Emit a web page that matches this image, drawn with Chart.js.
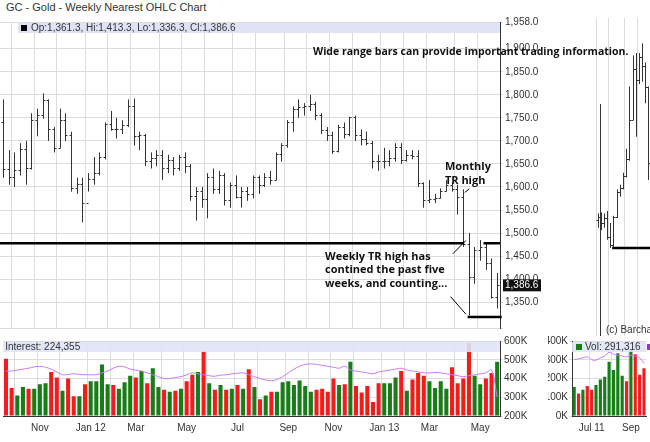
<!DOCTYPE html>
<html>
<head>
<meta charset="utf-8">
<script src="https://cdn.jsdelivr.net/npm/chart.js@4.4.1/dist/chart.umd.min.js"></script>
<style>
  body { margin: 0; background: #fff; width: 650px; height: 442px; overflow: hidden; position: relative; font-family: 'Liberation Sans', Arial, sans-serif; }
  .box { position: absolute; }
  #title { position: absolute; left: 6px; top: 1px; font-size: 11px; color: #333; }
  #wide { position: absolute; left: 313px; top: 44px; font: bold 10.5px 'Open Sans', sans-serif; color: #111; z-index: 5; white-space: nowrap; }
</style>
</head>
<body>
<div id="title">GC - Gold - Weekly Nearest OHLC Chart</div>
<div id="wide">Wide range bars can provide important trading information.</div>
<div class="box" style="left:0;top:14px;width:548px;height:322px"><canvas id="price"></canvas></div>
<div class="box" style="left:0;top:334px;width:548px;height:106px"><canvas id="vol"></canvas></div>
<div class="box" style="left:548px;top:14px;width:102px;height:322px"><canvas id="price2"></canvas></div>
<div class="box" style="left:548px;top:334px;width:102px;height:106px"><canvas id="vol2"></canvas></div>
<script>
/* ─── Dados: semanas de set/2011 a mai/2013 ─── */
const weeks = [
 '11-09-23','11-09-30','11-10-07','11-10-14','11-10-21','11-10-28','11-11-04','11-11-11','11-11-18','11-11-25',
 '11-12-02','11-12-09','11-12-16','11-12-23','11-12-30','12-01-06','12-01-13','12-01-20','12-01-27','12-02-03',
 '12-02-10','12-02-17','12-02-24','12-03-02','12-03-09','12-03-16','12-03-23','12-03-30','12-04-06','12-04-13',
 '12-04-20','12-04-27','12-05-04','12-05-11','12-05-18','12-05-25','12-06-01','12-06-08','12-06-15','12-06-22',
 '12-06-29','12-07-06','12-07-13','12-07-20','12-07-27','12-08-03','12-08-10','12-08-17','12-08-24','12-08-31',
 '12-09-07','12-09-14','12-09-21','12-09-28','12-10-05','12-10-12','12-10-19','12-10-26','12-11-02','12-11-09',
 '12-11-16','12-11-23','12-11-30','12-12-07','12-12-14','12-12-21','12-12-28','13-01-04','13-01-11','13-01-18',
 '13-01-25','13-02-01','13-02-08','13-02-15','13-02-22','13-03-01','13-03-08','13-03-15','13-03-22','13-03-29',
 '13-04-05','13-04-12','13-04-19','13-04-26','13-05-03','13-05-10','13-05-17','13-05-24'
];
const opens = [
 1740,1640,1622,1636,1683,1642,1745,1756,1788,1725,1685,1746,1713,1598,1606,1566,1617,1631,1665,1737,
 1725,1725,1735,1776,1710,1713,1656,1662,1669,1642,1659,1642,1664,1645,1580,1592,1574,1622,1595,1627,
 1572,1604,1579,1592,1584,1622,1604,1621,1616,1671,1691,1740,1770,1773,1776,1781,1756,1724,1712,1677,
 1731,1714,1751,1712,1705,1696,1657,1656,1657,1662,1687,1659,1669,1667,1609,1572,1573,1577,1592,1605,
 1596,1579,1476,1405,1463,1469,1434,1361.3
];
const highs = [
 1790,1680,1675,1695,1700,1760,1770,1803,1790,1730,1770,1760,1720,1620,1620,1630,1665,1675,1740,1765,
 1750,1745,1790,1792,1720,1715,1675,1680,1680,1670,1665,1670,1675,1650,1600,1600,1630,1640,1635,1630,
 1610,1625,1600,1600,1625,1625,1630,1635,1675,1695,1745,1775,1790,1782,1800,1785,1760,1730,1720,1735,
 1740,1752,1755,1725,1720,1700,1670,1685,1680,1695,1695,1680,1680,1680,1610,1615,1585,1597,1615,1610,
 1605,1595,1500,1470,1485,1480,1445,1413.3
];
const lows = [
 1620,1605,1600,1625,1605,1638,1710,1748,1700,1675,1685,1700,1590,1585,1523,1590,1605,1625,1660,1722,
 1705,1715,1730,1690,1680,1645,1640,1645,1615,1630,1625,1635,1630,1570,1527,1555,1532,1585,1585,1560,
 1555,1575,1555,1570,1575,1585,1600,1605,1615,1655,1685,1720,1750,1755,1765,1745,1715,1700,1672,1675,
 1705,1710,1700,1690,1690,1640,1635,1640,1645,1655,1650,1655,1660,1600,1555,1565,1565,1575,1590,1590,
 1540,1470,1321,1390,1440,1420,1358,1336.3
];
const closes = [
 1640,1622,1636,1683,1642,1745,1756,1788,1725,1685,1746,1713,1598,1606,1566,1617,1631,1665,1737,1725,
 1725,1735,1776,1710,1713,1656,1662,1669,1642,1659,1642,1664,1645,1580,1592,1574,1622,1595,1627,1572,
 1604,1579,1592,1584,1622,1604,1621,1616,1671,1691,1740,1770,1773,1776,1781,1756,1724,1712,1677,1731,
 1714,1751,1712,1705,1696,1657,1656,1657,1662,1687,1659,1669,1667,1609,1572,1573,1577,1592,1605,1596,
 1579,1476,1405,1463,1469,1434,1361,1386.6
];
const volume = [
 505,350,310,355,345,345,370,375,435,405,335,400,305,305,370,385,385,475,370,365,
 345,380,415,405,440,375,455,355,340,330,335,345,385,420,435,545,375,340,365,340,
 345,365,345,450,355,290,310,330,330,380,385,365,390,360,330,340,345,330,400,365,
 370,490,360,325,360,275,375,375,375,405,440,335,395,430,415,385,350,385,345,460,
 375,400,590,415,370,400,430,490
];
const openInterest = [
 440,440,445,450,455,462,465,460,450,435,420,422,425,422,420,420,420,430,440,455,
 465,462,450,445,440,430,420,410,400,400,405,410,420,430,425,420,415,412,418,420,
 425,428,430,420,410,400,392,388,395,410,430,450,465,475,478,475,470,465,460,455,
 465,445,440,435,430,425,435,440,445,450,455,445,440,435,430,430,432,430,425,420,
 415,410,415,420,425,430,445,300
];
const monthTicks = { 6:'Nov', 15:'Jan 12', 23:'Mar', 32:'May', 41:'Jul', 50:'Sep', 58:'Nov', 67:'Jan 13', 75:'Mar', 84:'May' };
const gridAt = [2,6,10,15,19,23,28,32,36,41,45,50,54,58,62,67,71,75,80,84];

// painel direito (jun–set 2011)
const weeks2  = ['06-03','06-10','06-17','06-24','07-01','07-08','07-15','07-22','07-29','08-05','08-12','08-19','08-26','09-02','09-09','09-16','09-23'];
const opens2  = [1536,1542,1530,1540,1500,1483,1542,1594,1602,1628,1664,1745,1852,1828,1877,1857,1813];
const highs2  = [1550,1552,1550,1555,1530,1545,1600,1610,1635,1685,1815,1880,1885,1885,1905,1865,1815];
const lows2   = [1520,1515,1520,1495,1478,1480,1540,1585,1600,1625,1660,1745,1710,1820,1825,1780,1620];
const closes2 = [1542,1530,1540,1500,1483,1542,1594,1602,1628,1664,1745,1852,1828,1877,1857,1813,1656];
const volume2 = [155,120,140,160,140,165,195,210,290,245,335,215,185,355,330,220,255];
const oi2     = [300,305,310,315,300,298,310,320,340,330,325,320,315,325,320,310,280];
const monthTicks2 = { 4:'Jul 11', 13:'Sep' };

const GRID = '#dcdce0';
const FONT = "'Liberation Sans', Arial, sans-serif";
const fmt = v => v.toLocaleString('en-US', { minimumFractionDigits: 1, maximumFractionDigits: 1 });

/* ─── Plugin: desenha barras OHLC usando as escalas ─── */
function ohlcPlugin(o, h, l, c) {
  return {
    id: 'ohlc',
    afterDatasetsDraw(chart) {
      const { ctx, scales: { x, y }, chartArea } = chart;
      ctx.save();
      ctx.beginPath();
      ctx.rect(chartArea.left, chartArea.top, chartArea.right - chartArea.left, chartArea.bottom - chartArea.top);
      ctx.clip();
      ctx.strokeStyle = '#333';
      ctx.lineWidth = 1;
      for (let i = 0; i < c.length; i++) {
        const px = Math.round(x.getPixelForValue(i)) + 0.5;
        ctx.beginPath();
        ctx.moveTo(px, y.getPixelForValue(h[i]));
        ctx.lineTo(px, y.getPixelForValue(l[i]));
        const yo = Math.round(y.getPixelForValue(o[i])) + 0.5;
        const yc = Math.round(y.getPixelForValue(c[i])) + 0.5;
        ctx.moveTo(px - 2, yo); ctx.lineTo(px, yo);
        ctx.moveTo(px, yc); ctx.lineTo(px + 2, yc);
        ctx.stroke();
      }
      ctx.restore();
    }
  };
}

/* ─── Plugin: anotações do gráfico principal ─── */
const notesPlugin = {
  id: 'notes',
  afterDraw(chart) {
    const { ctx, scales: { x, y }, chartArea } = chart;
    ctx.save();
    // faixa de legenda
    ctx.fillStyle = '#dfe3f5';
    ctx.fillRect(chartArea.left + 18, chartArea.top + 1, chartArea.right - chartArea.left - 18, 10);
    ctx.fillStyle = '#000';
    ctx.fillRect(chartArea.left + 21, chartArea.top + 3, 6, 6);
    ctx.font = '10px ' + FONT;
    ctx.fillStyle = '#333';
    ctx.textBaseline = 'middle';
    const n = closes.length - 1;
    ctx.fillText(`Op:${fmt(opens[n])}, Hi:${fmt(highs[n])}, Lo:${fmt(lows[n])}, Cl:${fmt(closes[n])}`, chartArea.left + 31, chartArea.top + 6);

    // linhas TR
    ctx.strokeStyle = '#000';
    ctx.lineWidth = 2.5;
    const yTop = y.getPixelForValue(1478), yBot = y.getPixelForValue(1318);
    ctx.beginPath();
    ctx.moveTo(chartArea.left, yTop); ctx.lineTo(x.getPixelForValue(81.2), yTop);
    ctx.moveTo(x.getPixelForValue(84.6), yTop); ctx.lineTo(chartArea.right, yTop);
    ctx.moveTo(x.getPixelForValue(81.8), yBot); ctx.lineTo(x.getPixelForValue(87.8), yBot);
    ctx.stroke();
    ctx.lineWidth = 1;
    ctx.beginPath();
    ctx.moveTo(x.getPixelForValue(79.2), y.getPixelForValue(1455)); ctx.lineTo(x.getPixelForValue(81.5), y.getPixelForValue(1484));
    ctx.moveTo(x.getPixelForValue(78.8), y.getPixelForValue(1362)); ctx.lineTo(x.getPixelForValue(81.5), y.getPixelForValue(1324));
    ctx.moveTo(x.getPixelForValue(81.3), y.getPixelForValue(1588)); ctx.lineTo(x.getPixelForValue(82.1), y.getPixelForValue(1596));
    ctx.stroke();

    // textos
    ctx.fillStyle = '#111';
    ctx.font = 'bold 11px ' + "'Open Sans', " + FONT;
    ctx.textBaseline = 'alphabetic';
    ctx.fillText('Monthly', x.getPixelForValue(77.8), y.getPixelForValue(1636));
    ctx.fillText('TR high', x.getPixelForValue(77.8), y.getPixelForValue(1607));
    ctx.fillText('Weekly TR high has', x.getPixelForValue(56.7), y.getPixelForValue(1442));
    ctx.fillText('contined the past five', x.getPixelForValue(56.7), y.getPixelForValue(1413));
    ctx.fillText('weeks, and counting...', x.getPixelForValue(56.7), y.getPixelForValue(1384));

    // rótulo do último preço
    const yl = y.getPixelForValue(closes[n]);
    ctx.fillStyle = '#111';
    ctx.fillRect(chartArea.right + 3, yl - 6, 38, 12);
    ctx.fillStyle = '#fff';
    ctx.font = '10px ' + FONT;
    ctx.textBaseline = 'middle';
    ctx.fillText(fmt(closes[n]), chartArea.right + 5, yl);
    ctx.restore();
  }
};

function priceChart(id, labels, o, h, l, c, grid, axisRight, extra) {
  return new Chart(document.getElementById(id), {
    type: 'bar',
    data: { labels, datasets: [{ data: c.map((v, i) => [l[i], h[i]]), backgroundColor: 'rgba(0,0,0,0)', barThickness: 1 }] },
    options: {
      responsive: true, maintainAspectRatio: false, animation: false,
      layout: { padding: { top: 4, bottom: 0 } },
      plugins: { legend: { display: false }, tooltip: { enabled: false } },
      scales: {
        x: {
          offset: true,
          border: { display: false },
          grid: { color: ctx => grid.includes(ctx.index) ? GRID : 'rgba(0,0,0,0)', drawTicks: false },
          ticks: { display: false, autoSkip: false }
        },
        y: {
          position: axisRight ? 'right' : 'left',
          display: axisRight,
          min: 1294, max: 1958,
          afterFit: s => { s.width = 48; },
          border: { color: '#333' },
          grid: { color: GRID, tickLength: 3 },
          ticks: { stepSize: 50, color: '#333', font: { size: 10, family: FONT }, padding: 2, callback: v => v >= 1300 ? fmt(v) : '' }
        }
      }
    },
    plugins: [ohlcPlugin(o, h, l, c)].concat(extra)
  });
}

function volChart(id, labels, vol, oi, c, o, ticksMap, grid, yMin, yMax, axisRight, legend) {
  const legendPlugin = {
    id: 'volLegend',
    afterDraw(chart) {
      const { ctx, chartArea } = chart;
      ctx.save();
      ctx.fillStyle = 'rgba(223,227,245,0.9)';
      ctx.fillRect(chartArea.left, chartArea.top + 1, chartArea.right - chartArea.left, 10);
      ctx.font = '10px ' + FONT;
      ctx.fillStyle = '#333';
      ctx.textBaseline = 'middle';
      legend(ctx, chartArea);
      ctx.restore();
    }
  };
  return new Chart(document.getElementById(id), {
    data: {
      labels,
      datasets: [
        { type: 'line', data: oi, borderColor: '#c77bf0', borderWidth: 1, pointRadius: 0, tension: 0.4, order: 0 },
        { type: 'bar', data: vol, backgroundColor: ctx => c[ctx.dataIndex] >= o[ctx.dataIndex] ? '#177d17' : '#f21c1c',
          categoryPercentage: 1, barPercentage: 0.72, base: yMin, order: 1 }
      ]
    },
    options: {
      responsive: true, maintainAspectRatio: false, animation: false,
      plugins: { legend: { display: false }, tooltip: { enabled: false } },
      scales: {
        x: {
          offset: true,
          border: { color: '#333' },
          grid: { color: ctx => grid.includes(ctx.index) ? GRID : 'rgba(0,0,0,0)', drawTicks: false },
          ticks: { autoSkip: false, maxRotation: 0, color: '#333', font: { size: 10, family: FONT }, padding: 6,
            callback: (v, i) => ticksMap[i] || '' }
        },
        y: {
          position: axisRight ? 'right' : 'left',
          min: yMin, max: yMax,
          afterFit: s => { s.width = axisRight ? 48 : 24; },
          border: { color: '#333' },
          grid: { color: GRID, tickLength: 3 },
          ticks: { stepSize: 100, color: '#333', font: { size: 10, family: FONT }, padding: 1, callback: v => v + 'K' }
        }
      }
    },
    plugins: [legendPlugin]
  });
}

priceChart('price', weeks, opens, highs, lows, closes, gridAt, true, [notesPlugin]);
volChart('vol', weeks, volume, openInterest, closes, opens, monthTicks, gridAt, 200, 600, true,
  (ctx, a) => ctx.fillText('Interest: 224,355', a.left + 2, a.top + 6));

const barchartNote = {
  id: 'bcnote',
  afterDraw(chart) {
    const { ctx, scales: { x, y }, chartArea } = chart;
    ctx.save();
    ctx.strokeStyle = '#000'; ctx.lineWidth = 2.5;
    const yy = y.getPixelForValue(1478);
    ctx.beginPath(); ctx.moveTo(x.getPixelForValue(4.6), yy); ctx.lineTo(chartArea.right, yy); ctx.stroke();
    ctx.strokeStyle = '#333'; ctx.lineWidth = 1;
    ctx.beginPath(); ctx.moveTo(chartArea.left + 4.5, chartArea.top + 86); ctx.lineTo(chartArea.left + 4.5, chartArea.bottom); ctx.stroke();
    ctx.fillStyle = '#333'; ctx.font = '10px ' + FONT; ctx.textBaseline = 'middle';
    ctx.fillText('(c) Barchart.com', chartArea.left + 10, chartArea.bottom - 6);
    ctx.restore();
  }
};
priceChart('price2', weeks2, opens2, highs2, lows2, closes2, [0, 4, 9, 13], false, [barchartNote]);
volChart('vol2', weeks2, volume2, oi2, closes2, opens2, monthTicks2, [0, 4, 9, 13], 0, 400, false, (ctx, a) => {
  ctx.fillStyle = '#177d17'; ctx.fillRect(a.left + 4, a.top + 3, 6, 6);
  ctx.fillStyle = '#333'; ctx.fillText('Vol: 291,316', a.left + 13, a.top + 6);
  ctx.fillStyle = '#9b2fd6'; ctx.fillRect(a.left + 75, a.top + 3, 6, 6);
  ctx.fillStyle = '#333'; ctx.fillText('Open', a.left + 84, a.top + 6);
});
</script>
</body>
</html>
